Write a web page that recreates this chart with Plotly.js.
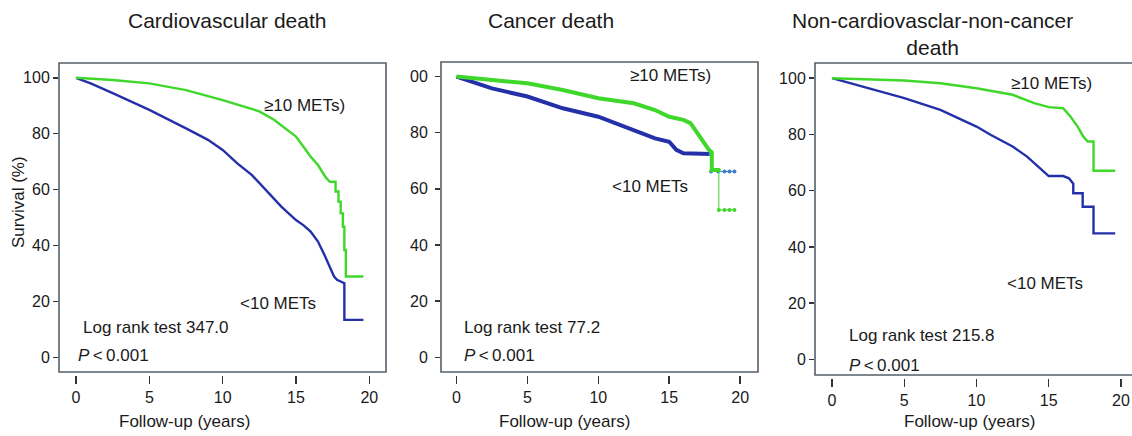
<!DOCTYPE html>
<html>
<head>
<meta charset="utf-8">
<script src="https://cdn.plot.ly/plotly-3.0.1.min.js"></script>
<style>
html,body{margin:0;padding:0;background:#fff;overflow:hidden;width:1132px;height:436px;}
#chart{width:1140px;height:436px;}
</style>
</head>
<body>
<div id="chart"></div>
<script>
// ---------- data ----------
const panelTitles = ["Cardiovascular death", "Cancer death", "Non-cardiovasclar-non-cancer<br>death"];
const logRankValues = ["347.0", "77.2", "215.8"];
const xTickVals = [0, 5, 10, 15, 20];
const xTickText = ["0", "5", "10", "15", "20"];
const yTickVals = [0, 20, 40, 60, 80, 100];
const yTickText = ["0", "20", "40", "60", "80", "100"];
const yTickTextCancer = ["0", "20", "40", "60", "80", "00"];

// Cardiovascular death
const cvYearsHigh = [0, 2.5, 5, 7.5, 10, 11.5, 12.5, 13.5, 15, 15.5, 16, 16.5, 17, 17.3, 17.7, 17.7, 17.9, 17.9, 18.05, 18.05, 18.2, 18.2, 18.3, 18.3, 18.4, 18.4, 19.6];
const cvSurvHigh  = [100, 99.2, 98, 95.6, 92, 89.5, 88, 85, 79, 75.4, 71.8, 68.8, 64.6, 62.8, 62.8, 59.3, 59.3, 55.7, 55.7, 51.5, 51.5, 46.7, 46.7, 38.4, 38.4, 28.9, 28.9];
const cvYearsLow  = [0, 1, 2.5, 5, 7.5, 9, 10, 11, 12, 12.5, 13, 14, 14.5, 15, 15.5, 16, 16.5, 16.8, 17, 17.3, 17.6, 17.8, 18.3, 18.3, 19.6];
const cvSurvLow   = [100, 98, 94.5, 88.5, 81.9, 77.8, 74.2, 69.4, 65.2, 62.3, 59.3, 53.9, 51.5, 49.1, 47.3, 45, 41.4, 38.4, 36, 32.4, 28.9, 27.7, 26.5, 13.4, 13.4];

// Cancer death
const caYearsHigh = [0, 2.5, 5, 7.5, 10, 12.5, 14, 15, 15.5, 16, 16.5, 17, 17.3, 17.6, 17.8, 18.0, 18.0, 18.45];
const caSurvHigh  = [100, 98.8, 97.6, 95.2, 92.3, 90.5, 88.1, 85.7, 85.0, 84.6, 83.4, 79.8, 77.4, 75.1, 73.9, 73.0, 66.7, 66.7];
const caYearsHighTail = [18.45, 18.5, 18.5, 18.9, 19.25, 19.6];
const caSurvHighTail  = [66.7, 66.7, 52.5, 52.5, 52.5, 52.5];
const caYearsLow  = [0, 2.5, 5, 7.5, 10, 12.5, 14, 15, 15.5, 16, 16.8, 17.9];
const caSurvLow   = [100, 95.8, 92.9, 88.7, 85.7, 81.0, 78.0, 76.8, 73.9, 72.7, 72.5, 72.4];
const caYearsLowTail = [17.9, 17.95, 17.95, 18.45, 18.9, 19.25, 19.6];
const caSurvLowTail  = [72.4, 72.4, 66.2, 66.2, 66.2, 66.2, 66.2];

// Non-cardiovascular-non-cancer death
const ncYearsHigh = [0, 2.5, 5, 7.5, 10, 12.5, 14, 15, 16, 16.5, 17, 17.4, 17.7, 18.1, 18.1, 19.6];
const ncSurvHigh  = [100, 99.6, 99.2, 98.2, 96.4, 94.1, 91.1, 89.7, 89.3, 86.4, 82.8, 79.2, 77.5, 77.5, 67.1, 67.1];
const ncYearsLow  = [0, 2.5, 5, 7.5, 10, 11, 12.5, 13.5, 14.5, 15, 16, 16.4, 16.7, 16.7, 16.9, 17.35, 17.35, 18.1, 18.1, 19.6];
const ncSurvLow   = [100, 96.4, 92.9, 88.7, 82.8, 79.8, 75.7, 72.1, 67.4, 65.2, 65.2, 64.4, 62.5, 59.1, 59.1, 59.1, 54.3, 54.3, 44.8, 44.8];

// ---------- styling / layout ----------
const W = 1140, H = 436;
const GREEN = "#3fd82a", BLUE = "#2330a8";
const FONT = "Liberation Sans, Arial, Helvetica, sans-serif";
const px = v => v / W;
const py = v => 1 - v / H;

// panel boxes in pixels: [left, right, top, bottom], x range, y range
const panels = [
  {box: [59, 386, 63, 372], xr: [-1.16, 21.14], yr: [-5.26, 105.3], yt: yTickText},
  {box: [441, 758, 62, 372], xr: [-1.09, 21.26], yr: [-5.24, 105.2], yt: yTickTextCancer},
  {box: [815, 1138, 63, 375], xr: [-1.18, 21.18], yr: [-5.55, 105.4], yt: yTickText}
];

function line(x, y, color, width, ax) {
  return {x: x, y: y, type: "scatter", mode: "lines", line: {color: color, width: width, shape: "linear"},
          xaxis: ax[0], yaxis: ax[1], hoverinfo: "skip", showlegend: false};
}
function dots(x, y, color, ax) {
  return {x: x, y: y, type: "scatter", mode: "lines+markers", line: {color: color, width: 1},
          marker: {color: color, size: 4, symbol: "circle"},
          xaxis: ax[0], yaxis: ax[1], hoverinfo: "skip", showlegend: false};
}

const A1 = ["x", "y"], A2 = ["x2", "y2"], A3 = ["x3", "y3"];
const traces = [
  line(cvYearsLow, cvSurvLow, BLUE, 2.4, A1),
  line(cvYearsHigh, cvSurvHigh, GREEN, 2.4, A1),
  line(caYearsLow, caSurvLow, BLUE, 4, A2),
  dots(caYearsLowTail, caSurvLowTail, "#3f7fd0", A2),
  line(caYearsHigh, caSurvHigh, GREEN, 4, A2),
  dots(caYearsHighTail, caSurvHighTail, GREEN, A2),
  line(ncYearsLow, ncSurvLow, BLUE, 2.4, A3),
  line(ncYearsHigh, ncSurvHigh, GREEN, 2.4, A3)
];

const layout = {
  width: W, height: H,
  margin: {l: 0, r: 0, t: 0, b: 0},
  paper_bgcolor: "#ffffff", plot_bgcolor: "#ffffff",
  font: {family: FONT, color: "#1a1a1a", size: 16},
  showlegend: false,
  shapes: [], annotations: []
};

panels.forEach((p, i) => {
  const s = i === 0 ? "" : String(i + 1);
  const [l, r, t, b] = p.box;
  layout["xaxis" + s] = {
    domain: [px(l), px(r)], range: p.xr, anchor: "free",
    position: py(b + 3),
    showline: false, zeroline: false, showgrid: false,
    ticks: "outside", ticklen: 8, tickwidth: 1.5, tickcolor: "#333",
    tickvals: xTickVals, ticktext: xTickText,
    tickfont: {size: 16, family: FONT, color: "#1a1a1a"},
    fixedrange: true
  };
  layout["yaxis" + s] = {
    domain: [py(b), py(t)], range: p.yr, anchor: "x" + s,
    showline: false, zeroline: false, showgrid: false,
    ticks: "outside", ticklen: 5, tickwidth: 1.5, tickcolor: "#333",
    tickvals: yTickVals, ticktext: p.yt,
    tickfont: {size: 16, family: FONT, color: "#1a1a1a"},
    ticklabelstandoff: i === 1 ? 4 : 0,
    fixedrange: true
  };
  layout.shapes.push({type: "rect", xref: "x" + s + " domain", yref: "y" + s + " domain",
    x0: 0, x1: 1, y0: 0, y1: 1, line: {color: "#55606a", width: 1.6}, fillcolor: "rgba(0,0,0,0)", layer: "above"});
});

function ann(text, xpx, ypx, size, opts) {
  return Object.assign({text: text, xref: "paper", yref: "paper", x: px(xpx), y: py(ypx),
    xanchor: "left", yanchor: "middle", showarrow: false,
    font: {family: FONT, size: size, color: "#1a1a1a"}}, opts || {});
}

// panel titles
layout.annotations.push(ann(panelTitles[0], 227, 21, 21, {xanchor: "center"}));
layout.annotations.push(ann(panelTitles[1], 551, 21, 21, {xanchor: "center"}));
layout.annotations.push(ann(panelTitles[2], 932, 34, 21, {xanchor: "center"}));

// x axis titles
layout.annotations.push(ann("Follow-up (years)", 184, 421, 17, {xanchor: "center"}));
layout.annotations.push(ann("Follow-up (years)", 564, 421, 17, {xanchor: "center"}));
layout.annotations.push(ann("Follow-up (years)", 969, 421, 17, {xanchor: "center"}));

// y axis title
layout.annotations.push(ann("Survival (%)", 18, 202, 17, {xanchor: "center", textangle: -90}));

// curve labels
const hiPos = [[262, 105], [628, 75], [1009, 83]];
const loPos = [[238, 303], [610, 187], [1005, 283]];
const lrPos = [[81, 327], [462, 327], [847, 335]];
const pPos  = [[76, 355], [462, 355], [847, 365]];
for (let i = 0; i < 3; i++) {
  layout.annotations.push(ann("\u226510 METs)", hiPos[i][0], hiPos[i][1], 17));
  layout.annotations.push(ann("<10 METs", loPos[i][0], loPos[i][1], 17));
  layout.annotations.push(ann("Log rank test " + logRankValues[i], lrPos[i][0], lrPos[i][1], 17));
  layout.annotations.push(ann("<i>P</i>\u2009<\u20090.001", pPos[i][0], pPos[i][1], 17));
}

Plotly.newPlot("chart", traces, layout, {displayModeBar: false, staticPlot: true});
</script>
</body>
</html>
